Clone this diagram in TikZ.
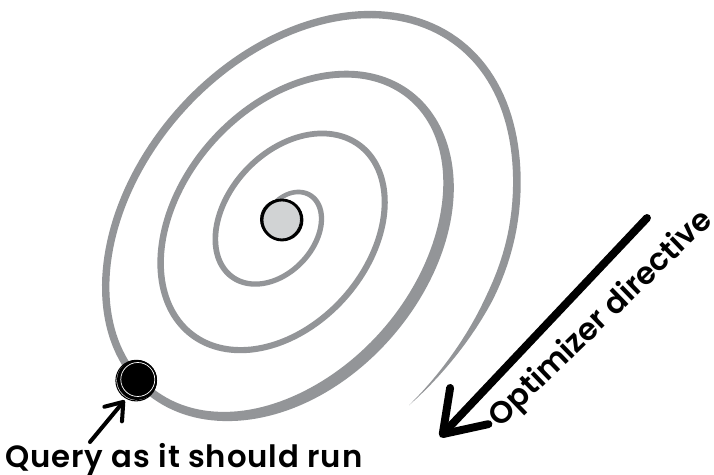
\documentclass[tikz,border=0pt]{standalone}
\usepackage{fontspec}
\usepackage{tikz}
\usetikzlibrary{positioning,arrows.meta,calc}
\newfontfamily\handfont{Poppins}[UprightFont=* Medium, BoldFont=* SemiBold]
\definecolor{sprgrey}{HTML}{939598}
\definecolor{stonegrey}{HTML}{D1D3D4}

\begin{document}
\begin{tikzpicture}[
  x=0.02cm, y=-0.02cm,
  hand/.style={font=\handfont\bfseries\fontsize{17.5}{19}\selectfont, inner sep=0pt},
  ball/.style={circle, minimum size=0.8cm, inner sep=0pt},
  pointer/.style={-{Straight Barb[length=9pt,width=13pt,round]}, line width=2.3pt, line cap=round},
  bigpointer/.style={-{Straight Barb[length=22pt,width=30pt,round]}, line width=4.5pt, line cap=round},
  declare function={
    sprE(\u)=min(((\u-1170)/40)*((\u-1170)/40),100);
    sprA(\u)=37.7+0.1963*\u+14/(1+sprE(\u)*sprE(\u));
    sprD(\u)=min(((\u-810)/60)*((\u-810)/60),100);
    sprW(\u)=(5.2+0.0022*\u+5/(1+sprD(\u)*sprD(\u)))*min(1,(1182-\u)/28);
    sprX(\u,\s)=281.3+0.0125*\u+(sprA(\u)+\s*sprW(\u)/2)*cos(\u)*0.6428
                +(0.71*sprA(\u)+\s*sprW(\u)/2)*sin(\u)*0.766;
    sprY(\u,\s)=222+0.0097*\u-(sprA(\u)+\s*sprW(\u)/2)*cos(\u)*0.766
                +(0.71*sprA(\u)+\s*sprW(\u)/2)*sin(\u)*0.6428;
  },
]
  \useasboundingbox[fill=white] (0,0) rectangle (714,475);

  % the spiral: a grey band, widening outwards, with a pointed tail
  \fill[sprgrey]
    plot[domain=-70:1182, samples=600, variable=\q] ({sprX(\q,1)}, {sprY(\q,1)})
    -- plot[domain=1182:-70, samples=600, variable=\q] ({sprX(\q,-1)}, {sprY(\q,-1)})
    -- cycle;

  % the goal in the middle
  \node[ball, fill=stonegrey, draw, line width=1.6pt] (target) at (282,220) {};
  \draw[line width=0.5pt] ($(target)+(-1.5,-0.6)$) circle[radius=20];

  % the query on the outer turn
  \node[ball, fill=black] (query) at (137,380) {};
  \draw[white, line width=0.4pt] ($(query)+(0.8,-0.5)$) circle[radius=17];
  \draw[line width=0.6pt] ($(query)+(-0.8,0.6)$) circle[radius=20.3];

  % labels
  \node[hand, anchor=base west] (querytext) at (5,468)
    {\addfontfeature{LetterSpace=3}Query as it should run};
  \node[hand, anchor=base, rotate=44] (dirtext) at (607,325) {Optimizer directive};

  % arrows
  \coordinate (qtail) at (90,442);
  \draw[pointer, shorten >=2pt] (qtail) -- (query.240);
  \coordinate (dirtail) at (647,218);
  \coordinate (dirtip) at (440,437);
  \draw[bigpointer] (dirtail) -- (dirtip);
\end{tikzpicture}
\end{document}
